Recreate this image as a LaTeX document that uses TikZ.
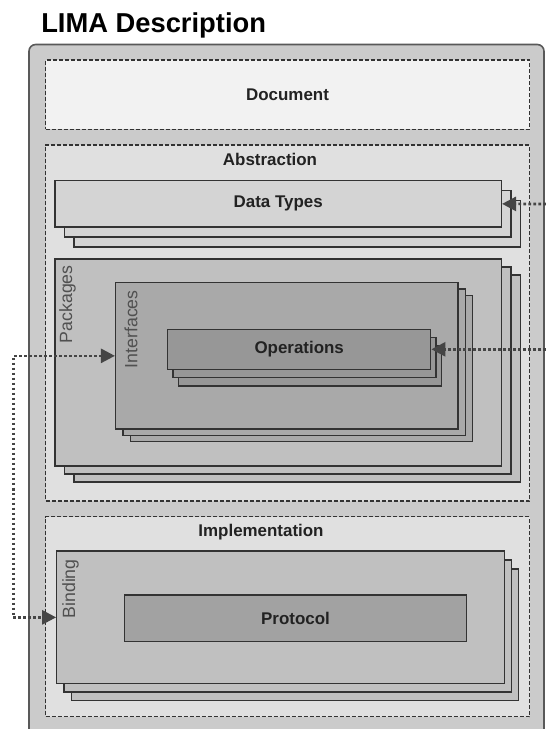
\documentclass[tikz,border=0pt]{standalone}
\usepackage{fontspec}
\setmainfont{Liberation Sans}
\usetikzlibrary{fit,arrows.meta}
\definecolor{edgegray}{HTML}{333333}
\definecolor{framegray}{HTML}{CBCBCB}
\definecolor{docfill}{HTML}{F2F2F2}
\definecolor{zonefill}{HTML}{E0E0E0}
\definecolor{typesfill}{HTML}{D4D4D4}
\definecolor{pkgfill}{HTML}{C0C0C0}
\definecolor{ifacefill}{HTML}{A9A9A9}
\definecolor{opsfill}{HTML}{979797}
\definecolor{protofill}{HTML}{A2A2A2}
\definecolor{labelgray}{HTML}{222222}
\definecolor{sidegray}{HTML}{505050}
\definecolor{linkgray}{HTML}{454545}
\begin{document}
\begin{tikzpicture}[
    x = 0.75pt,
    y = -0.75pt,
    layer/.style = {draw=edgegray, line width=1pt},
    zone/.style = {draw=edgegray, line width=1pt, dash pattern=on 3pt off 1.5pt},
    boxlabel/.style = {font=\fontsize{12.7}{15}\selectfont\bfseries, text=labelgray},
    sidelabel/.style = {font=\fontsize{13.3}{16}\selectfont, text=sidegray,
      rotate=90, anchor=east, inner sep=0pt},
    link/.style = {draw=linkgray, line width=2pt, dash pattern=on 2pt off 1.75pt},
    headtip/.tip = {Triangle[length=10.5pt, width=10.5pt, fill=linkgray]},
    ]
    \clip (0,0) rectangle (546,729);
    % title
    \node[anchor=base west, inner sep=0pt, font=\fontsize{20.5}{25}\selectfont\bfseries]
    (title) at (41,32) {LIMA Description};
    % outer frame
    \draw[fill=framegray, draw=gray!70!black, line width=1.2pt, rounded corners=5pt]
    (29,44.5) rectangle (544,760);
    % document
    \node[zone, fill=docfill, fit={(45.6,60) (529.5,129.3)}, inner sep=0pt,
      label={[boxlabel]center:Document}] (doc) {};
    % abstraction
    \node[zone, fill=zonefill, fit={(45.6,145) (529.5,501)}, inner sep=0pt] (abstr) {};
    \node[boxlabel, anchor=base] (abstrlbl) at (270,165) {Abstraction};
    \foreach \d in {2, 1}
    \draw[layer, fill=typesfill] (55+9.5*\d, 180.7+10*\d) rectangle (501.4+9.5*\d, 227+10*\d);
    \node[layer, fill=typesfill, fit={(55,180.7) (501.4,227)}, inner sep=0pt,
      label={[boxlabel]center:Data Types}] (types) {};
    \foreach \d in {2, 1}
    \draw[layer, fill=pkgfill] (55+9.5*\d, 259+8*\d) rectangle (501.4+9.5*\d, 466+8*\d);
    \node[layer, fill=pkgfill, fit={(55,259) (501.4,466)}, inner sep=0pt] (pkgs) {};
    \node[sidelabel] (pkgslbl) at (67.5,265) {Packages};
    \foreach \d in {2, 1}
    \draw[layer, fill=ifacefill] (115.6+7.3*\d, 282.7+6.3*\d) rectangle (458+7.3*\d, 429+6.3*\d);
    \node[layer, fill=ifacefill, fit={(115.6,282.7) (458,429)}, inner sep=0pt] (ifaces) {};
    \node[sidelabel] (ifaceslbl) at (131,290) {Interfaces};
    \foreach \d in {2, 1}
    \draw[layer, fill=opsfill] (167.7+5.3*\d, 329.3+8.3*\d) rectangle (430.7+5.3*\d, 369.3+8.3*\d);
    \node[layer, fill=opsfill, fit={(167.7,329.3) (430.7,369.3)}, inner sep=0pt,
      label={[boxlabel]center:Operations}] (ops) {};
    % implementation
    \node[zone, fill=zonefill, fit={(45.6,516.7) (529.5,716.7)}, inner sep=0pt] (impl) {};
    \node[boxlabel, anchor=base] (impllbl) at (261,536.7) {Implementation};
    \foreach \d in {2, 1}
    \draw[layer, fill=pkgfill] (56.8+7.2*\d, 551+9*\d) rectangle (504.3+7.2*\d, 683.7+8.3*\d);
    \node[layer, fill=pkgfill, fit={(56.8,551) (504.3,683.7)}, inner sep=0pt] (bind) {};
    \node[sidelabel] (bindlbl) at (70.5,559) {Binding};
    \node[layer, fill=protofill, fit={(124.3,595) (466.7,641.7)}, inner sep=0pt,
      label={[boxlabel]center:Protocol}] (proto) {};
    % links
    \coordinate (typesin) at (546,204);
    \coordinate (opsin) at (546,349.3);
    \coordinate (bendx) at (13.3,490);
    \draw[link, -headtip] (typesin) -- (types.east);
    \draw[link, -headtip] (opsin) -- (ops.east);
    \draw[link, headtip-headtip] (ifaces.west) -| (bendx) |- (bind.west);
  \end{tikzpicture}
\end{document}
